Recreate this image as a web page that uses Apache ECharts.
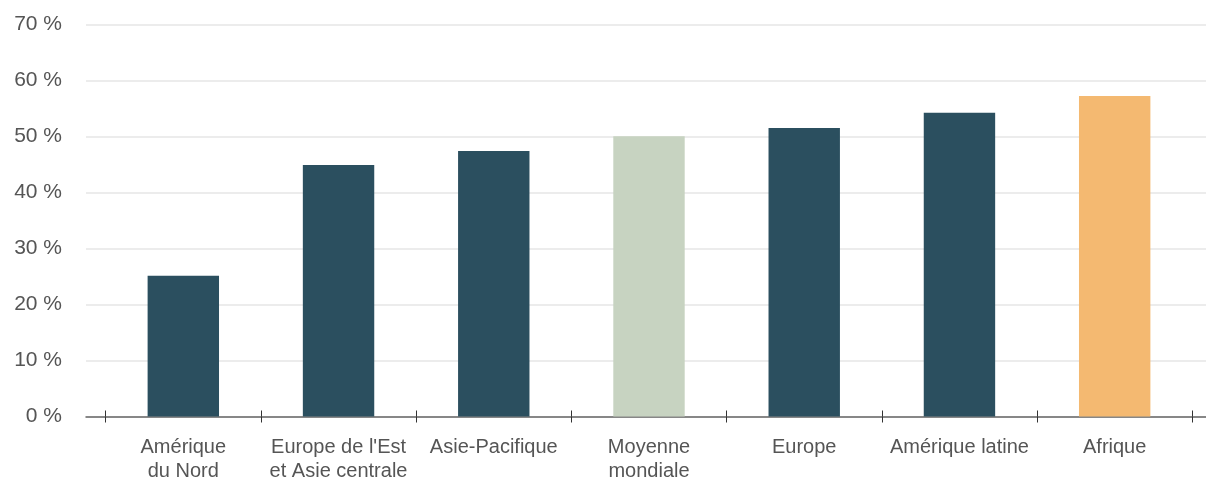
<!DOCTYPE html>
<html>
<head>
<meta charset="utf-8">
<script src="https://cdn.jsdelivr.net/npm/echarts@6/dist/echarts.min.js"></script>
<style>
html,body{margin:0;padding:0;background:#fff;}
#chart{width:1206px;height:480px;}
</style>
</head>
<body>
<div id="chart"></div>
<script>
const categories = ["Amérique\ndu Nord", "Europe de l'Est\net Asie centrale", "Asie-Pacifique", "Moyenne\nmondiale", "Europe", "Amérique latine", "Afrique"];
const values = [25.1, 44.9, 47.4, 50.0, 51.5, 54.2, 57.2];
const yTicks = [0, 10, 20, 30, 40, 50, 60, 70];

const barColors = ["#2b4f5f", "#2b4f5f", "#2b4f5f", "#c7d3c1", "#2b4f5f", "#2b4f5f", "#f4b971"];
const fontFam = "'Liberation Sans', Arial, sans-serif";

const chart = echarts.init(document.getElementById('chart'), null, {renderer: 'canvas'});
const gridTop = 24.3, gridBottom = 480 - 416.5;
chart.setOption({
  animation: false,
  backgroundColor: '#ffffff',
  grid: [
    {left: 86, right: 0, top: gridTop, bottom: gridBottom, containLabel: false, outerBoundsMode: 'none'},
    {left: 105.7, right: 13.7, top: gridTop, bottom: gridBottom, containLabel: false, outerBoundsMode: 'none'}
  ],
  xAxis: [
    {gridIndex: 0, type: 'value', min: 0, max: 1, axisLine: {show: true, onZero: false, lineStyle: {color: '#666', width: 1.5}},
     axisTick: {show: false}, axisLabel: {show: false}, splitLine: {show: false}},
    {gridIndex: 1, type: 'category', data: categories, boundaryGap: true,
     axisLine: {show: false}, axisTick: {show: true, length: 6, lineStyle: {color: '#333', width: 1}},
     axisLabel: {interval: 0, color: '#555555', fontFamily: fontFam, fontSize: 20, lineHeight: 24, margin: 19}},
    {gridIndex: 1, type: 'category', data: categories, boundaryGap: true, position: 'bottom',
     axisLine: {show: false}, axisTick: {show: true, inside: true, length: 6, lineStyle: {color: '#333', width: 1}},
     axisLabel: {show: false}}
  ],
  yAxis: [
    {gridIndex: 0, type: 'value', min: yTicks[0], max: yTicks[yTicks.length - 1], interval: yTicks[1] - yTicks[0],
     axisLine: {show: false}, axisTick: {show: false},
     axisLabel: {formatter: '{value} %', color: '#555555', fontFamily: fontFam, fontSize: 21, margin: 24},
     splitLine: {show: true, lineStyle: {color: '#e6e6e6', width: 1.5}}},
    {gridIndex: 1, type: 'value', min: yTicks[0], max: yTicks[yTicks.length - 1], show: false, splitLine: {show: false}}
  ],
  series: [{
    type: 'bar',
    xAxisIndex: 1,
    yAxisIndex: 1,
    barWidth: '46%',
    data: values.map((v, i) => ({value: v, itemStyle: {color: barColors[i]}})),
    z: 3
  }]
});
</script>
</body>
</html>
